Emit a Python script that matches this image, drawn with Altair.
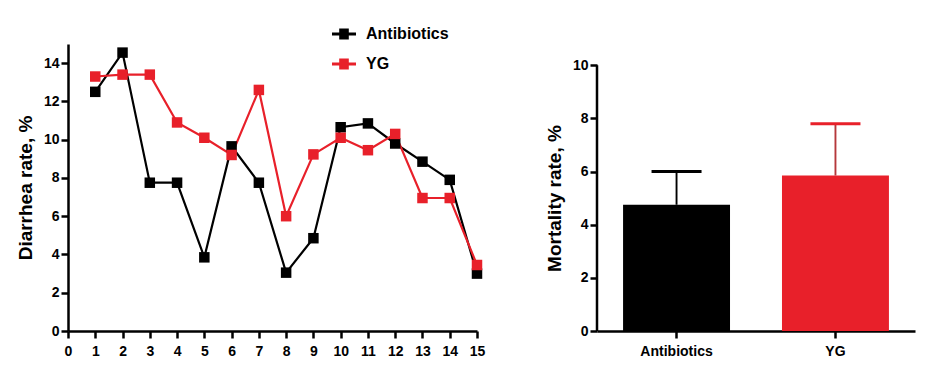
import altair as alt
import pandas as pd

days = list(range(1, 16))
antibiotics = [12.5, 14.55, 7.75, 7.75, 3.85, 9.65, 7.75, 3.05, 4.85, 10.65, 10.85, 9.8, 8.85, 7.9, 3.0]
yg = [13.3, 13.4, 13.4, 10.9, 10.1, 9.2, 12.6, 6.0, 9.23, 10.1, 9.45, 10.3, 6.95, 6.95, 3.45]
groups = ["Antibiotics", "YG"]
mortality = [4.75, 5.85]
mortality_upper = [6.0, 7.8]
colors = ["#000000", "#E8202A"]
err_colors = ["#000000", "#B5383B"]

FONT = "Liberation Sans"

line_df = pd.DataFrame({
    "day": days * 2,
    "rate": antibiotics + yg,
    "group": ["Antibiotics"] * len(days) + ["YG"] * len(days),
})
bar_df = pd.DataFrame({"group": groups, "value": mortality, "err": mortality_upper})
axis_df = pd.DataFrame({"value": [0], "err": [10]})

legend_path = ("M-1,-0.12L1,-0.12L1,0.12L-1,0.12Z "
               "M-0.4,-0.45L0.4,-0.45L0.4,0.45L-0.4,0.45Z")

color_enc = alt.Color(
    "group:N",
    scale=alt.Scale(domain=groups, range=colors),
    legend=alt.Legend(
        title=None, orient="none", legendX=264, legendY=-22,
        symbolType=legend_path, symbolSize=576, symbolStrokeWidth=0,
        symbolOpacity=1, labelFont=FONT, labelFontSize=16, labelFontWeight="bold",
        labelColor="black", labelOffset=10, rowPadding=10, padding=0,
    ),
)

x_line = alt.X("day:Q", scale=alt.Scale(domain=[0, 15], nice=False),
               axis=alt.Axis(values=list(range(16)), title=None, labelPadding=6,
                             labelFlush=False))
y_line = alt.Y("rate:Q", scale=alt.Scale(domain=[0, 15], nice=False),
               axis=alt.Axis(values=[0, 2, 4, 6, 8, 10, 12, 14], title="Diarrhea rate, %",
                             titlePadding=8, labelPadding=2))

base = alt.Chart(line_df).encode(x=x_line, y=y_line, color=color_enc)
lines = base.mark_line(strokeWidth=2.2)
points = base.mark_point(shape="square", filled=True, size=110, opacity=1)
left = alt.layer(lines, points).properties(width=409, height=287)

def yenc(field):
    return alt.Y(f"{field}:Q", scale=alt.Scale(domain=[0, 10.8], nice=False),
                 axis=alt.Axis(values=[0, 2, 4, 6, 8, 10], domain=False,
                               title="Mortality rate, %", titleY=154,
                               titlePadding=8, labelPadding=2))

x_bar = alt.X("group:N", sort=groups,
              scale=alt.Scale(paddingInner=0.327, paddingOuter=0.164),
              axis=alt.Axis(title=None, labelAngle=0, labelPadding=6))
bar_color = alt.Color("group:N", scale=alt.Scale(domain=groups, range=colors), legend=None)
err_color = alt.Color("group:N", scale=alt.Scale(domain=groups, range=err_colors), legend=None)

bars = alt.Chart(bar_df).mark_bar().encode(x=x_bar, y=yenc("value"), color=bar_color)
err_rule = alt.Chart(bar_df).mark_rule(strokeWidth=1.9).encode(
    x=x_bar, y=yenc("value"), y2="err:Q", stroke=err_color)
err_cap = alt.Chart(bar_df).mark_tick(size=50, thickness=3, opacity=1).encode(
    x=x_bar, y=yenc("err"), color=bar_color)
y_axis_line = alt.Chart(axis_df).mark_rule(strokeWidth=2.5, color="black").encode(
    x=alt.value(0), y=yenc("value"), y2="err:Q")

right = alt.layer(bars, err_rule, err_cap, y_axis_line).resolve_scale(
    stroke="independent"
).properties(width=318, height=287)

chart = alt.hconcat(left, right, spacing=120, bounds="flush").resolve_scale(
    color="independent"
).properties(
    background="white",
    padding={"left": 16, "top": 22, "right": 5, "bottom": 5},
).configure_view(stroke=None).configure_axis(
    grid=False,
    domainColor="black", domainWidth=2.5,
    tickColor="black", tickWidth=2.5, tickSize=7,
    labelFont=FONT, labelFontSize=14, labelFontWeight="bold", labelColor="black",
    titleFont=FONT, titleFontSize=19, titleFontWeight="bold", titleColor="black",
)

chart.save("out.html", embed_options={"renderer": "svg", "actions": False})
